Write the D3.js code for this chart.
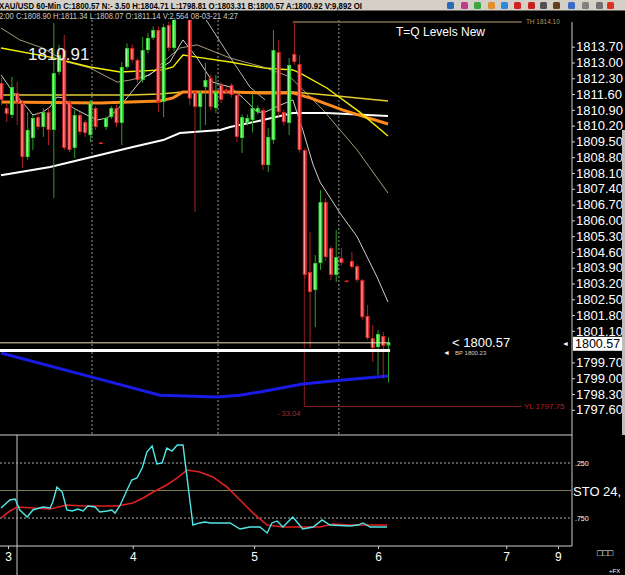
<!DOCTYPE html>
<html><head><meta charset="utf-8">
<script src="https://cdn.jsdelivr.net/npm/d3@7"></script>
<style>
body{margin:0;background:#000;}
svg{display:block;font-family:"Liberation Sans",Arial,sans-serif;}
</style></head><body>
<svg width="625" height="575"></svg>
<script>
// hourly XAU/USD bars (index = bar number)
const opens  = [1812.09,1810.98,1810.67,1811.65,1811.20,1808.81,1809.65,1810.58,1810.14,1810.80,1810.01,1812.58,1813.55,1811.25,1809.21,1810.67,1810.36,1809.78,1810.98,1809.45,1810.14,1810.58,1810.98,1810.32,1812.80,1813.64,1813.11,1812.22,1813.55,1814.09,1814.44,1811.25,1814.66,1813.64,1815.10,1815.60,1815.20,1811.69,1811.03,1811.91,1812.31,1810.98,1812.00,1811.80,1812.00,1811.56,1809.65,1810.32,1810.45,1810.80,1810.89,1808.45,1809.56,1813.46,1810.80,1810.32,1813.38,1812.93,1809.12,1803.71,1802.91,1804.11,1806.81,1804.77,1803.58,1804.33,1803.33,1804.20,1803.97,1803.35,1801.76,1800.78,1800.38,1800.87,1800.45];
const highs  = [1812.31,1811.16,1812.36,1812.13,1811.34,1810.80,1810.67,1810.80,1810.98,1810.98,1814.75,1813.78,1814.22,1811.34,1810.89,1810.80,1810.45,1811.34,1811.07,1809.47,1810.60,1811.07,1811.11,1813.02,1813.85,1813.80,1813.20,1814.13,1814.30,1814.60,1814.60,1814.70,1814.80,1815.40,1815.90,1816.00,1815.50,1811.80,1811.75,1812.98,1812.45,1812.45,1812.13,1811.90,1812.09,1811.65,1810.70,1810.70,1811.60,1811.10,1811.00,1810.09,1814.44,1814.00,1810.89,1813.20,1814.80,1813.33,1809.20,1805.48,1804.46,1807.35,1806.99,1804.85,1805.57,1804.77,1803.35,1804.60,1804.05,1803.40,1802.25,1801.36,1801.14,1801.05,1800.82];
const lows   = [1811.11,1810.36,1810.54,1810.23,1808.32,1808.68,1809.12,1810.01,1809.70,1809.34,1806.99,1812.45,1809.12,1809.03,1808.76,1809.80,1809.70,1809.47,1810.01,1809.38,1810.01,1810.50,1810.14,1809.34,1812.70,1813.00,1812.10,1812.10,1813.40,1814.00,1810.80,1810.58,1813.50,1813.50,1814.95,1815.00,1811.10,1806.37,1810.01,1810.23,1810.89,1810.76,1811.20,1811.60,1811.45,1809.47,1808.99,1810.20,1809.90,1810.70,1808.23,1808.14,1809.40,1810.60,1810.20,1809.78,1812.90,1809.00,1803.40,1800.34,1801.27,1803.80,1804.20,1803.35,1803.27,1804.00,1803.27,1803.85,1803.25,1801.60,1800.70,1799.72,1799.14,1799.00,1798.81];
const closes = [1811.34,1810.72,1811.91,1811.20,1808.81,1810.01,1810.54,1810.14,1810.80,1810.01,1812.53,1813.33,1809.21,1809.12,1810.67,1809.92,1809.87,1811.20,1810.14,1809.40,1810.54,1810.98,1810.32,1812.80,1813.64,1813.11,1812.22,1813.55,1814.09,1814.44,1811.25,1814.57,1813.64,1815.10,1815.60,1815.20,1811.40,1811.03,1811.65,1812.22,1811.03,1811.69,1811.34,1811.69,1811.56,1809.70,1810.58,1810.54,1810.98,1810.98,1808.45,1809.70,1813.55,1810.80,1810.36,1812.89,1813.02,1809.12,1803.58,1802.82,1804.11,1806.81,1804.37,1803.58,1804.37,1804.11,1803.29,1803.93,1803.35,1801.71,1800.78,1800.34,1800.96,1800.43,1800.57];

// moving averages as [bar, price]
const maYellow = [[0,1813.64],[9.4,1813.24],[17,1812.80],[22.8,1812.58],[31,1812.67],[32.9,1812.80],[34.8,1813.33],[37.5,1813.24],[43.8,1813.02],[50.1,1812.76],[55.8,1812.67],[57.2,1812.53],[62.3,1811.87],[68.6,1810.80],[74,1809.74]];
const maGold   = [[0,1811.56],[24.7,1811.56],[30.4,1811.60],[34.8,1811.69],[55.8,1811.69],[62.3,1811.56],[74,1811.29]];
const maOrange = [[0,1811.25],[18.9,1811.20],[30.4,1811.29],[32.9,1811.43],[34.8,1811.69],[43.8,1811.69],[50.1,1811.65],[55.8,1811.65],[59.1,1811.43],[65.4,1810.89],[74,1810.27]];
const maWhite  = [[0,1808.00],[9.4,1808.37],[18.9,1808.90],[25.2,1809.25],[31,1809.56],[34.2,1809.87],[41.9,1810.01],[43.8,1810.14],[50.1,1810.45],[55.8,1810.76],[62.3,1810.76],[74,1810.63]];
const maFast   = [[0,1812.45],[2.3,1811.69],[4.6,1811.11],[6.1,1810.67],[8,1810.80],[9.4,1811.03],[10.7,1811.47],[11.9,1811.43],[13.8,1810.98],[16.4,1810.67],[18.4,1810.45],[20.3,1810.54],[22.2,1810.89],[24.1,1811.43],[25.6,1811.87],[27.2,1812.31],[29.8,1812.67],[32.3,1813.02],[34.2,1813.78],[34.8,1814.00],[37.5,1813.20],[40.5,1812.13],[43.8,1811.91],[46.3,1811.43],[49,1810.80],[50.5,1810.80],[53.4,1811.11],[55.8,1811.34],[57.7,1810.01],[59.7,1808.45],[61,1807.70],[64.8,1806.33],[68.1,1805.27],[71.9,1803.49],[74,1802.38]];
const maMid    = [[0,1814.53],[3.6,1814.00],[8,1813.64],[12.6,1813.02],[17,1812.76],[22.2,1812.13],[24.7,1812.22],[28.5,1812.45],[31,1813.02],[34.2,1813.64],[37.5,1813.78],[43.8,1813.20],[50.1,1812.80],[55.3,1812.36],[61.6,1810.89],[68.1,1809.12],[74,1807.21]];
const maThin   = [[38,1815.33],[43.8,1813.24],[47.6,1811.91],[50.5,1811.34]];
const blueLine = [[0,1800.12],[17.4,1799.05],[30.4,1798.25],[41.3,1798.17],[45.7,1798.25],[49.5,1798.39],[57.7,1798.74],[65.4,1798.92],[74,1799.10]];

// stochastic pane as [bar, value]
const stoK = [[0,.659],[1.7,.586],[2.7,.577],[3.6,.677],[5,.741],[6.1,.677],[8,.650],[9.4,.659],[9.9,.605],[10.7,.468],[11.7,.514],[12.6,.677],[13.6,.686],[14.7,.668],[15.7,.686],[16.6,.641],[18,.650],[18.9,.695],[20.3,.686],[21.2,.677],[21.8,.705],[22.8,.632],[24.1,.495],[25,.405],[26,.386],[27,.295],[27.9,.150],[28.9,.095],[29.8,.259],[30.8,.250],[31.7,.114],[32.7,.141],[33.7,.086],[34.8,.086],[36.7,.814],[38,.795],[39,.786],[40,.795],[43.8,.795],[45.7,.850],[47.6,.832],[49.5,.832],[50.9,.886],[51.8,.795],[52.8,.777],[53.9,.832],[55.8,.741],[57.7,.850],[59.7,.832],[61.4,.768],[62.9,.814],[66.7,.823],[68.3,.814],[69.2,.795],[70.6,.832],[73.8,.832]];
const stoD = [[0,.750],[1.7,.686],[3.1,.650],[6.1,.659],[9.4,.668],[12.6,.632],[15.7,.641],[22.2,.641],[25.2,.614],[27.2,.568],[29.1,.514],[31.7,.450],[33.7,.386],[35.6,.314],[38,.332],[40.5,.377],[43.2,.468],[45.7,.586],[48.2,.705],[50.9,.814],[53.9,.832],[61,.832],[63.5,.805],[66.7,.814],[73.8,.814]];
const stoLevels = [.25, .5, .75];
const stoLabels = [".250", "STO  24,", ".750"];

const priceTicks = [1813.70,1813.00,1812.30,1811.60,1810.90,1810.20,1809.50,1808.80,1808.10,1807.40,1806.70,1806.00,1805.30,1804.60,1803.90,1803.20,1802.50,1801.80,1801.10,1799.70,1799.00,1798.30,1797.60];
const timeTicks = [1.34, 25.2, 48.4, 72.1, 96.6, 106.5];
const timeLabels = ["3", "4", "5", "6", "7", "9"];
const sessionMarks = [17.4, 41.5, 64.6];

const lastClose = 1800.57, bidLevel = 1800.23;
const thLevel = 1814.80, ylLevel = 1797.75;

const svg = d3.select("svg");
svg.append("rect").attr("width", 625).attr("height", 575).attr("fill", "#000");

const x = d3.scaleLinear().domain([0, 74]).range([1, 388]);
const y = d3.scaleLinear().domain([1797.60, 1813.70]).range([409.8, 46.7]);
const ys = d3.scaleLinear().domain([0, 1]).range([435.5, 545.5]);

svg.append("clipPath").attr("id", "pane")
  .append("rect").attr("x", 0).attr("y", 20).attr("width", 572).attr("height", 415);

const g = svg.append("g").attr("clip-path", "url(#pane)");

// session separators
g.selectAll(".sess")
  .data(sessionMarks)
  .enter().append("line")
  .attr("x1", d => x(d)).attr("x2", d => x(d))
  .attr("y1", 20).attr("y2", 435)
  .attr("stroke", "#9a9a9a").attr("stroke-dasharray", "2,2");

// TH / YL box
g.append("line")
  .attr("x1", x(55.8)).attr("x2", x(99.6))
  .attr("y1", y(thLevel)).attr("y2", y(thLevel))
  .attr("stroke", "#7a6e4a").attr("stroke-width", 1.5);
g.append("line")
  .attr("x1", x(58)).attr("x2", x(58))
  .attr("y1", y(1803.58)).attr("y2", y(ylLevel))
  .attr("stroke", "#8a1c1c");
g.append("line")
  .attr("x1", x(58)).attr("x2", x(99.6))
  .attr("y1", y(ylLevel)).attr("y2", y(ylLevel))
  .attr("stroke", "#8a1c1c");

const line = d3.line().x(d => x(d[0])).y(d => y(d[1]));

function drawMa(data, color, w) {
  g.append("path").datum(data)
    .attr("d", line)
    .attr("fill", "none")
    .attr("stroke", color)
    .attr("stroke-width", w);
}

drawMa(maMid, "#a89c76", 1);
drawMa(maThin, "#b8b8b0", 1);
drawMa(maFast, "#cfcfc8", 1);
drawMa(maWhite, "#ffffff", 2);
drawMa(maGold, "#e2cc30", 1.6);
drawMa(maOrange, "#ff8a1e", 3);
drawMa(maYellow, "#f4f000", 1.4);
drawMa(blueLine, "#1a1ae6", 3);

// candles
const bars = opens.map((o, i) => ({ i, o, h: highs[i], l: lows[i], c: closes[i], up: closes[i] >= o }));

g.selectAll(".wick")
  .data(bars)
  .enter().append("line")
  .attr("x1", d => x(d.i) + 0.5).attr("x2", d => x(d.i) + 0.5)
  .attr("y1", d => y(d.h)).attr("y2", d => y(d.l))
  .attr("stroke", d => d.up ? "#2c9c2c" : "#b02222");

g.selectAll(".body")
  .data(bars)
  .enter().append("rect")
  .attr("x", d => x(d.i) - 1.5)
  .attr("y", d => y(Math.max(d.o, d.c)))
  .attr("width", 4)
  .attr("height", d => Math.max(1.5, Math.abs(y(d.o) - y(d.c))))
  .attr("fill", d => d.up ? "#2fd42f" : "#e02a2a");

g.selectAll(".shine")
  .data(bars.filter(d => Math.abs(y(d.o) - y(d.c)) > 3))
  .enter().append("rect")
  .attr("x", d => x(d.i) - 0.5)
  .attr("y", d => y(Math.max(d.o, d.c)) + 1)
  .attr("width", 1.2)
  .attr("height", d => Math.abs(y(d.o) - y(d.c)) - 2)
  .attr("fill", d => d.up ? "#a8ffa8" : "#ff9a9a");

// last close and bid lines
g.append("line")
  .attr("x1", 0).attr("x2", x(74.4))
  .attr("y1", y(lastClose)).attr("y2", y(lastClose))
  .attr("stroke", "#e6e0b4");
g.append("line")
  .attr("x1", 0).attr("x2", x(74.4))
  .attr("y1", y(bidLevel)).attr("y2", y(bidLevel))
  .attr("stroke", "#ffffff").attr("stroke-width", 3);

// level texts
svg.append("text").attr("x", x(99.6) + 4).attr("y", y(thLevel) + 2)
  .attr("font-size", 6.5).attr("fill", "#b0985a").text("TH  1814.10");
svg.append("text").attr("x", x(99.6) + 2).attr("y", y(ylLevel) + 3)
  .attr("font-size", 8).attr("fill", "#b82222").text("YL  1797.75");
svg.append("text").attr("x", 277).attr("y", 416)
  .attr("font-size", 7.5).attr("fill", "#b82222").text("- 33.04");

svg.append("text").attr("x", 28).attr("y", 60)
  .attr("font-size", 17).attr("fill", "#f0f0f0").text("1810.91");
svg.append("text").attr("x", 396).attr("y", 36)
  .attr("font-size", 12).attr("fill", "#ffffff").text("T=Q Levels New");

svg.append("text").attr("x", 452).attr("y", 347)
  .attr("font-size", 13).attr("fill", "#ffffff").text("< 1800.57");
svg.append("text").attr("x", 443).attr("y", 355)
  .attr("font-size", 7).attr("fill", "#ffffff").text("◄");
svg.append("text").attr("x", 455).attr("y", 355)
  .attr("font-size", 6).attr("fill", "#d0d0d0").text("BP  1800.23");

// price axis
svg.append("line").attr("x1", 572).attr("x2", 572).attr("y1", 22).attr("y2", 546)
  .attr("stroke", "#c8c8c8");

const ay = svg.append("g")
  .attr("transform", "translate(572,0)")
  .call(d3.axisRight(y).tickValues(priceTicks).tickFormat(d3.format(".2f")).tickSize(3).tickPadding(1));
ay.select(".domain").remove();
ay.selectAll("line").attr("stroke", "#d0d0d0");
ay.selectAll("text").attr("fill", "#ffffff").attr("font-size", 13)
  .attr("font-family", "Liberation Sans, Arial, sans-serif");

svg.append("rect").attr("x", 573).attr("y", y(lastClose) - 6).attr("width", 49).attr("height", 14)
  .attr("fill", "#ffffff");
svg.append("text").attr("x", 575).attr("y", y(lastClose) + 5.5)
  .attr("font-size", 12.5).attr("fill", "#000").text("1800.57");
svg.append("text").attr("x", 562).attr("y", y(lastClose) + 3)
  .attr("font-size", 7).attr("fill", "#ffffff").text("◄");
svg.append("rect").attr("x", 622).attr("y", 130).attr("width", 3).attr("height", 305)
  .attr("fill", "#bdbdbd");

// stochastic pane
svg.append("line").attr("x1", 0).attr("x2", 572).attr("y1", 435).attr("y2", 435).attr("stroke", "#d0d0d0");
svg.append("line").attr("x1", 0).attr("x2", 572).attr("y1", 546).attr("y2", 546).attr("stroke", "#d0d0d0");
svg.append("line").attr("x1", 17).attr("x2", 17).attr("y1", 435).attr("y2", 575).attr("stroke", "#c8c8c8");

svg.selectAll(".lvl")
  .data(stoLevels)
  .enter().append("line")
  .attr("x1", 0).attr("x2", 572)
  .attr("y1", d => ys(d)).attr("y2", d => ys(d))
  .attr("stroke", d => d === .5 ? "#7c7c58" : "#b0b0b0")
  .attr("stroke-dasharray", d => d === .5 ? null : "2,2");

svg.selectAll(".lvl-label")
  .data(stoLevels)
  .enter().append("text")
  .attr("x", d => d === .5 ? 573 : 575)
  .attr("y", d => ys(d) + (d === .5 ? 5 : 3))
  .attr("font-size", d => d === .5 ? 13 : 7)
  .attr("fill", "#ffffff")
  .text((d, i) => stoLabels[i]);

const sline = d3.line().x(d => x(d[0])).y(d => ys(d[1]));
svg.append("path").datum(stoD).attr("d", sline)
  .attr("fill", "none").attr("stroke", "#e02020").attr("stroke-width", 1.6);
svg.append("path").datum(stoK).attr("d", sline)
  .attr("fill", "none").attr("stroke", "#50e8e8").attr("stroke-width", 1.4);

// time axis
const ax = svg.append("g")
  .attr("transform", "translate(0,546)")
  .call(d3.axisBottom(x).tickValues(timeTicks).tickFormat((d, i) => timeLabels[i]).tickSize(3).tickPadding(3));
ax.select(".domain").remove();
ax.selectAll("line").attr("stroke", "#d0d0d0");
ax.selectAll("text").attr("fill", "#ffffff").attr("font-size", 12)
  .attr("font-family", "Liberation Sans, Arial, sans-serif");

svg.append("text").attr("x", 597).attr("y", 556)
  .attr("font-size", 9).attr("fill", "#ffffff").text("□□□");
svg.append("text").attr("x", 609).attr("y", 573)
  .attr("font-size", 6).attr("fill", "#ffffff").text("+FX");

// header
svg.append("rect").attr("width", 625).attr("height", 10.5).attr("fill", "#d4d0c8");
svg.append("text").attr("x", -1).attr("y", 8.5)
  .attr("font-size", 9).attr("font-weight", "bold").attr("fill", "#000")
  .attr("textLength", 363).attr("lengthAdjust", "spacingAndGlyphs")
  .text("XAU/USD  60-Min  C:1800.57  N:- 3.50  H:1804.71  L:1798.81  O:1803.31  B:1800.57  A:1800.92  V:9,892  OI");
svg.append("text").attr("x", -1).attr("y", 19)
  .attr("font-size", 9).attr("fill", "#c8c8c8")
  .attr("textLength", 239).attr("lengthAdjust", "spacingAndGlyphs")
  .text("2:00  C:1808.90  H:1811.34  L:1808.07  O:1811.14  V:2,564  08-03-21  4:27");

const icons = [
  { x: 447, c: "#2a6ab8" }, { x: 461, c: "#c03a8a" }, { x: 474, c: "#3aa83a" },
  { x: 488, c: "#e0902a" }, { x: 501, c: "#2a8ad8" }, { x: 514, c: "#d02020" },
  { x: 528, c: "#c82020" }, { x: 540, c: "#505050" }, { x: 553, c: "#604020" },
  { x: 568, c: "#3a6ac8" }, { x: 582, c: "#808080" }, { x: 596, c: "#707070" },
  { x: 607, c: "#e03020" }
];
svg.selectAll(".icon")
  .data(icons)
  .enter().append("rect")
  .attr("x", d => d.x).attr("y", 2)
  .attr("width", 7).attr("height", 7)
  .attr("rx", 1.5)
  .attr("fill", d => d.c);
</script></body></html>
